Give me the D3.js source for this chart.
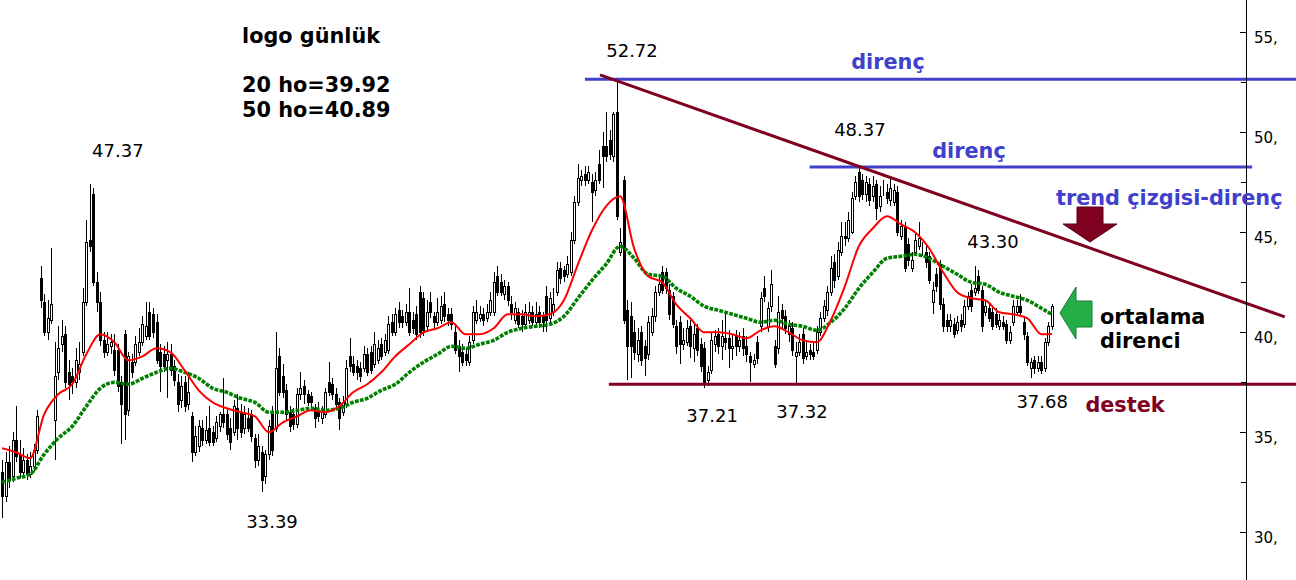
<!DOCTYPE html>
<html><head><meta charset="utf-8">
<script src="https://cdn.jsdelivr.net/npm/d3@7"></script>
<style>body{margin:0;background:#fff}svg{display:block;font-family:"DejaVu Sans",Verdana,sans-serif}</style>
</head><body><svg id="c" width="1296" height="580"></svg>
<script>
// ---- daily OHLC ----
const opens = [
33.0,31.8,33.5,32.8,34.6,33.9,33.0,33.6,32.9,33.3,
34.1,42.7,41.5,40.0,40.6,35.6,38.0,39.4,39.9,38.0,
37.8,37.5,38.0,39.0,41.5,44.6,46.9,42.5,41.5,39.6,
39.0,39.3,39.1,39.1,37.5,39.9,36.1,38.5,38.5,39.0,
39.5,39.8,41.0,40.9,40.5,39.0,38.9,38.6,38.9,38.3,
37.5,36.6,37.5,36.4,35.8,34.0,34.3,35.2,34.6,35.2,
35.0,34.7,35.3,35.9,35.9,35.2,35.0,36.2,36.0,35.2,
35.7,35.9,34.7,33.6,34.0,32.8,33.9,36.0,35.2,38.8,
37.8,37.1,36.0,35.9,35.4,36.9,37.3,36.9,36.8,36.2,
36.1,35.7,35.9,37.5,37.4,36.9,36.5,36.0,36.4,38.8,
38.4,38.3,38.2,38.2,38.9,39.0,38.4,38.6,39.4,39.0,
39.1,40.5,40.0,41.1,40.8,40.5,41.0,40.6,40.9,42.0,
41.7,40.3,41.5,40.8,40.5,40.6,41.4,40.9,40.9,40.0,
39.3,39.0,38.9,38.5,39.6,40.6,40.7,40.9,40.7,41.0,
41.0,42.8,42.5,41.9,42.3,41.4,40.6,41.0,40.8,40.4,
40.6,41.0,40.5,41.0,40.8,41.8,40.7,41.0,42.0,43.2,
43.1,42.9,43.0,44.6,46.5,47.6,47.9,47.6,47.5,47.1,
48.4,49.3,49.3,49.6,48.8,51.0,44.0,47.6,41.1,40.8,
40.0,38.9,40.0,39.3,38.9,40.0,40.8,42.0,43.0,43.0,
42.1,41.8,40.3,40.5,39.4,39.5,40.3,39.2,40.2,39.4,
39.2,37.6,38.1,39.4,39.9,39.3,39.7,39.7,39.2,39.8,
39.3,39.8,39.3,38.8,38.4,39.5,40.3,42.2,40.3,41.3,
39.3,39.2,41.1,40.8,39.9,40.2,38.8,39.0,39.9,38.8,
39.1,39.0,39.1,40.0,40.7,41.1,42.0,43.5,42.8,44.0,
44.8,44.7,45.0,46.8,48.0,47.6,46.9,47.4,46.8,47.4,
46.3,47.2,47.0,46.6,46.5,47.0,44.8,45.3,44.4,43.2,
44.0,44.3,44.1,44.0,43.8,41.5,42.9,43.4,41.4,40.6,
40.3,40.4,40.1,40.6,40.4,41.3,42.1,42.0,42.8,42.1,
41.0,41.2,41.0,40.9,40.3,40.5,40.4,39.6,40.5,41.0,
41.3,40.5,39.8,38.2,38.6,38.2,38.5,38.2,39.5,40.3];
const highs = [
33.6,34.0,34.3,35.0,36.3,34.6,34.2,33.9,34.0,34.4,
36.1,43.3,41.9,41.6,44.2,39.5,40.3,40.6,40.3,38.6,
38.2,39.2,39.5,42.2,45.6,47.4,47.2,43.0,42.0,40.0,
40.0,39.9,39.9,39.4,37.8,40.1,39.0,38.9,39.8,40.2,
40.8,41.5,41.5,41.2,40.9,39.4,39.3,39.5,39.4,38.6,
37.9,37.8,37.8,38.0,36.0,35.3,35.6,35.6,35.8,36.3,
35.3,35.8,36.0,37.7,36.2,35.7,36.6,36.9,36.4,36.3,
36.2,36.1,34.9,34.9,34.3,34.1,35.6,36.3,40.0,39.2,
38.4,37.4,36.3,36.2,37.2,38.0,37.6,37.1,37.0,36.4,
36.5,36.3,37.2,38.5,37.7,37.2,36.7,36.8,38.6,39.7,
38.8,38.6,38.5,39.3,39.2,39.3,40.0,39.6,39.7,39.9,
40.8,40.9,41.2,41.5,41.1,41.4,42.2,41.0,41.3,42.3,
42.0,41.6,42.0,41.0,41.7,41.8,42.0,41.2,41.2,40.4,
39.6,39.4,39.2,39.8,41.3,41.6,41.3,41.2,41.4,42.0,
43.0,43.3,42.9,42.6,42.5,41.8,41.5,41.2,41.1,41.4,
41.5,41.3,41.5,41.3,41.0,42.3,42.0,42.2,43.5,43.5,
43.3,43.8,45.0,46.8,48.4,48.1,48.3,48.3,47.9,48.0,
49.1,50.0,51.0,50.1,51.0,52.7,45.2,47.8,41.6,41.5,
40.6,40.2,40.3,39.6,40.8,41.2,42.3,42.8,43.3,43.2,
42.4,42.0,40.6,40.8,40.2,40.6,40.6,40.4,40.4,39.7,
39.5,38.3,40.0,40.1,40.2,40.6,40.9,40.1,39.9,40.1,
40.0,40.2,39.8,39.0,38.9,39.8,42.0,42.8,41.5,43.1,
39.6,41.8,41.4,41.1,40.6,40.5,39.5,39.9,40.2,39.6,
39.4,39.5,40.3,41.0,41.6,42.3,43.8,43.9,44.5,45.5,
45.5,46.0,47.0,47.8,48.2,47.9,47.8,47.7,47.8,47.6,
47.3,47.6,47.4,47.7,47.4,47.3,45.6,45.5,44.7,44.0,
45.0,45.5,44.5,44.3,44.0,42.5,43.2,43.6,41.7,40.9,
40.9,40.7,40.8,40.9,41.6,42.0,42.4,43.3,43.1,42.3,
41.6,41.4,41.2,41.2,40.9,40.8,40.6,40.3,41.6,41.6,
41.9,40.8,40.0,38.7,38.8,38.8,38.8,39.7,40.5,41.4];
const lows = [
30.7,31.5,32.2,32.5,33.5,32.7,32.8,32.6,32.7,33.0,
33.9,41.2,39.8,39.6,40.4,33.6,37.6,39.0,37.2,36.6,
36.9,37.2,37.6,38.8,41.3,44.0,42.3,41.0,39.3,38.7,
38.8,38.9,37.8,37.0,34.4,34.6,35.8,37.7,38.3,38.8,
39.3,39.6,39.6,39.7,38.4,37.0,38.0,36.7,37.8,37.3,
36.0,36.2,36.0,36.1,33.5,33.8,34.0,34.3,34.4,34.3,
34.3,34.5,35.0,35.2,34.6,34.1,34.8,34.6,34.7,34.9,
35.0,34.5,33.2,33.3,32.0,32.4,33.6,33.8,35.0,36.8,
36.7,35.6,35.0,35.1,35.2,36.6,36.4,36.3,36.2,35.2,
35.5,35.4,35.7,36.8,36.6,36.1,35.1,35.8,36.2,38.0,
37.8,37.6,37.5,38.0,37.8,37.9,38.2,38.4,38.6,38.8,
38.9,39.8,39.8,40.2,40.2,40.3,39.8,39.9,39.6,39.7,
39.8,40.0,40.7,40.2,40.3,40.4,40.5,40.3,40.1,38.9,
38.0,38.3,38.3,38.3,39.4,40.4,40.5,40.3,40.5,40.8,
40.8,41.8,41.8,41.6,41.3,40.6,40.4,40.2,40.0,40.2,
40.4,40.3,40.3,40.2,40.0,40.0,40.3,40.8,41.8,42.4,
42.5,42.7,42.8,44.4,46.3,47.3,47.3,47.4,45.5,46.8,
47.4,47.2,48.5,48.6,48.5,45.6,43.8,40.4,37.6,37.7,
38.6,38.5,38.3,37.8,38.6,39.8,40.5,41.8,41.9,41.9,
40.6,40.2,38.9,38.4,39.1,39.3,38.7,38.5,38.8,38.0,
37.2,37.3,37.9,39.0,38.9,38.6,39.1,38.2,38.6,38.8,
39.0,38.8,38.5,37.5,38.2,38.4,40.0,41.5,40.0,41.0,
38.2,38.9,40.2,39.9,39.5,38.8,37.4,38.8,38.4,38.6,
38.6,38.6,38.9,39.8,40.5,40.8,41.8,42.2,42.6,43.8,
44.3,44.5,44.9,46.6,46.5,46.6,46.5,46.3,46.5,45.6,
46.0,46.8,46.4,46.3,46.3,44.8,44.6,43.0,43.3,43.0,
43.8,44.1,43.8,43.2,42.4,40.9,42.0,41.1,40.0,40.0,
40.0,39.7,39.9,40.0,40.2,41.1,41.0,41.8,41.9,40.0,
40.8,40.5,40.1,40.2,40.1,40.1,39.4,39.4,40.3,40.8,
40.8,39.6,38.3,37.7,37.9,38.0,37.9,38.0,39.3,40.1];
const closes = [
31.8,33.5,32.6,34.6,33.8,33.0,33.6,32.9,33.3,34.1,
35.8,41.6,40.0,40.7,41.4,37.8,39.2,39.8,37.5,37.4,
37.5,38.6,38.4,41.5,44.5,44.3,42.5,41.5,39.6,39.0,
39.4,39.5,38.1,37.3,36.4,35.9,38.8,38.0,39.4,39.5,
40.4,40.3,39.8,40.0,38.6,38.3,38.3,38.9,38.1,37.6,
36.4,37.3,36.3,37.0,34.0,34.8,35.3,34.6,35.1,34.5,
34.5,35.5,35.9,35.5,34.9,34.5,36.3,35.2,35.0,35.9,
35.2,34.8,33.6,34.3,32.6,33.9,35.3,34.1,38.2,37.0,
37.0,35.9,35.3,35.4,36.9,37.2,36.9,36.5,36.5,35.7,
35.8,36.0,37.0,37.0,36.9,36.4,35.7,36.5,38.2,38.3,
38.0,38.0,37.8,38.9,38.0,38.1,39.4,39.2,38.8,39.6,
40.4,40.0,40.9,40.5,40.5,41.0,40.0,40.2,39.9,40.0,
40.1,41.0,41.0,40.5,41.0,41.3,40.8,40.6,40.4,39.1,
38.8,38.5,38.6,39.5,41.0,41.0,40.9,40.6,41.0,41.6,
42.5,42.0,42.0,42.3,41.6,41.0,41.2,40.4,40.4,41.0,
41.0,40.5,40.9,40.5,40.5,40.6,41.7,41.4,43.1,42.7,
42.8,43.4,44.6,46.5,47.7,47.8,47.6,48.0,47.0,47.6,
47.6,48.8,48.8,48.9,50.9,45.8,44.5,40.6,39.3,39.3,
39.0,39.6,38.6,38.7,40.5,40.8,42.0,42.4,42.1,42.2,
40.9,40.4,39.3,39.4,39.6,40.2,39.3,39.9,39.1,38.3,
37.5,38.0,39.6,39.8,39.3,39.8,39.5,39.2,39.3,39.3,
39.6,39.2,38.9,38.5,38.6,38.7,41.7,41.8,41.2,42.4,
38.4,41.0,40.7,40.2,40.3,39.1,39.0,39.5,38.7,39.0,
38.9,38.8,40.0,40.7,41.3,42.0,43.2,42.6,44.1,44.8,
44.7,45.6,46.7,47.5,46.8,46.9,47.5,46.6,47.3,46.2,
46.8,47.2,46.7,47.2,47.1,45.0,45.3,43.2,43.6,43.6,
44.6,44.7,44.1,43.5,42.6,42.1,42.3,41.4,40.3,40.3,
40.6,39.9,40.5,40.3,41.3,41.8,41.3,42.2,42.1,40.3,
41.3,40.7,40.3,40.4,40.6,40.3,39.6,40.0,41.3,41.3,
41.0,39.9,38.5,38.5,38.2,38.5,38.1,39.5,40.3,41.3];

// moving averages, read every 4th bar (last entry = last bar)
const ma20 = [
34.2,34.0,33.7,35.9,36.9,37.4,38.9,39.9,39.5,38.6,
38.8,39.2,39.0,38.1,37.1,36.5,36.2,36.0,35.8,35.0,
35.5,35.8,36.1,36.0,36.3,37.0,37.4,38.0,38.8,39.4,
40.0,40.2,40.5,39.9,39.9,40.2,40.9,40.9,40.8,40.9,
41.6,43.4,45.1,46.3,46.8,44.2,42.8,42.5,41.4,40.7,
40.0,40.0,39.9,39.7,40.1,40.3,40.0,39.6,39.5,40.6,
42.3,44.3,45.2,45.8,45.4,45.0,44.2,43.0,42.0,41.7,
41.6,41.0,40.9,40.7,39.9,39.92];
const ma50 = [
32.5,32.7,32.9,33.9,34.7,35.3,36.3,37.2,37.5,37.4,
37.7,38.0,38.2,38.0,37.7,37.2,37.0,36.7,36.5,36.0,
36.0,36.1,36.2,36.1,36.2,36.5,36.7,37.1,37.4,38.0,
38.5,38.9,39.3,39.2,39.4,39.6,40.0,40.2,40.3,40.4,
40.8,41.7,42.6,43.4,44.3,43.7,42.9,42.8,42.2,41.8,
41.3,41.1,40.9,40.7,40.5,40.6,40.4,40.3,40.1,40.5,
41.2,42.2,43.0,43.7,43.8,43.9,43.7,43.3,42.9,42.5,
42.4,42.0,41.8,41.6,41.2,40.89];

const yTicks = [30,35,40,45,50,55];
const yMinorTicks = [32.5,37.5,42.5,47.5,52.5];

// levels drawn on the chart [startBar, endBar, price]
const resist1 = [166, 368.5, 52.65];
const resist2 = [230, 356, 48.27];
const support = [172.8, 368.5, 37.4];
const trendLine = [[170.3, 52.87], [365.3, 40.77]];

// price notes: [text, bar, price]
const notes = [
  ["52.72", 179.4, 53.77], ["47.37", 33.0, 48.77], ["48.37", 244.3, 49.82],
  ["43.30", 282.2, 44.22], ["37.21", 202.2, 35.52], ["37.32", 227.8, 35.72],
  ["37.68", 296.2, 36.22], ["33.39", 76.9, 30.22]
];

const svg = d3.select('#c');
const N = opens.length;
const x = d3.scaleLinear().domain([0, N - 1]).range([2, 1052]);
const y = d3.scaleLinear().domain([30, 55]).range([532.3, 32.3]);

const bars = d3.range(N).map(i => ({i, o: opens[i], h: highs[i], l: lows[i], c: closes[i]}));
const px = i => Math.round(x(i)) + 0.5;

// candles
const cg = svg.append('g').attr('shape-rendering', 'crispEdges');
cg.selectAll('line.w').data(bars).join('line')
  .attr('x1', d => px(d.i)).attr('x2', d => px(d.i))
  .attr('y1', d => Math.round(y(d.h))).attr('y2', d => Math.round(y(d.l)))
  .attr('stroke', '#000').attr('stroke-width', 1);
cg.selectAll('rect.b').data(bars).join('rect')
  .attr('x', d => px(d.i) - 1)
  .attr('width', 2)
  .attr('y', d => Math.round(y(Math.max(d.o, d.c))) + 0.5)
  .attr('height', d => Math.max(0, Math.round(y(Math.min(d.o, d.c))) - Math.round(y(Math.max(d.o, d.c)))))
  .attr('fill', d => d.c >= d.o ? '#fff' : '#000')
  .attr('stroke', '#000').attr('stroke-width', 1);

// moving averages
const maBars = d3.range(0, N - 3, 4).concat([N - 1]);
const lineGen = d3.line().x((d, k) => x(maBars[k])).y(d => y(d)).curve(d3.curveMonotoneX);
svg.append('path').datum(ma50).attr('d', lineGen)
  .attr('fill', 'none').attr('stroke', '#008000').attr('stroke-width', 3.6)
  .attr('stroke-dasharray', '3.8,1.3');
svg.append('path').datum(ma20).attr('d', lineGen)
  .attr('fill', 'none').attr('stroke', '#ff0000').attr('stroke-width', 2);

// horizontal levels
const blue = '#4040cc', maroon = '#800020';
[[resist1, blue], [resist2, blue], [support, maroon]].forEach(([lv, col]) => {
  svg.append('line')
    .attr('x1', x(lv[0])).attr('x2', x(lv[1]))
    .attr('y1', y(lv[2])).attr('y2', y(lv[2]))
    .attr('stroke', col).attr('stroke-width', 3);
});
svg.append('line')
  .attr('x1', x(trendLine[0][0])).attr('y1', y(trendLine[0][1]))
  .attr('x2', x(trendLine[1][0])).attr('y2', y(trendLine[1][1]))
  .attr('stroke', maroon).attr('stroke-width', 3);

// y axis (right side)
const axX = 1246;
svg.append('line').attr('x1', axX + 0.5).attr('x2', axX + 0.5).attr('y1', 0).attr('y2', 580)
  .attr('stroke', '#000').attr('shape-rendering', 'crispEdges');
const major = svg.append('g').attr('transform', `translate(${axX},0)`)
  .call(d3.axisLeft(y).tickValues(yTicks).tickSize(6).tickFormat(''));
const minor = svg.append('g').attr('transform', `translate(${axX},0)`)
  .call(d3.axisLeft(y).tickValues(yMinorTicks).tickSize(5).tickFormat(''));
[major, minor].forEach(g => { g.select('.domain').remove(); g.selectAll('line').attr('shape-rendering', 'crispEdges'); });
const labs = svg.append('g').attr('transform', `translate(${axX},0)`)
  .call(d3.axisRight(y).tickValues(yTicks).tickSize(0).tickPadding(8).tickFormat(d => d + ','));
labs.select('.domain').remove();
labs.selectAll('text').attr('font-size', 15).attr('font-family', '"DejaVu Sans",Verdana,sans-serif')
  .attr('fill', '#000').attr('dy', '0.66em');

// price notes
svg.selectAll('text.note').data(notes).join('text').attr('class', 'note')
  .attr('x', d => x(d[1])).attr('y', d => y(d[2]))
  .attr('text-anchor', 'middle').attr('font-size', 18).attr('fill', '#000')
  .text(d => d[0]);

// text annotations
const T = (t, xx, yy, col, anchor, size) => svg.append('text').attr('x', xx).attr('y', yy)
  .attr('fill', col).attr('font-weight', 'bold').attr('font-size', size || 20.8)
  .attr('text-anchor', anchor || 'start').text(t);
T('logo günlük', 242, 43, '#000');
T('20 ho=39.92', 242, 92, '#000');
T('50 ho=40.89', 242, 117, '#000');
T('direnç', 888, 69, blue, 'middle');
T('direnç', 969, 158, blue, 'middle');
T('trend çizgisi-direnç', 1056, 205, blue);
T('destek', 1125, 412, maroon, 'middle');
T('ortalama', 1100, 324, '#000');
T('direnci', 1100, 348, '#000');

// arrows
svg.append('path')
  .attr('d', 'M1060,313 L1076,287 L1076,301 L1092,301 L1092,327 L1076,327 L1076,339 Z')
  .attr('fill', '#24ae48').attr('stroke', '#177a30').attr('stroke-width', 1);
svg.append('path')
  .attr('d', 'M1077,207 L1103,207 L1103,224 L1117,224 L1090,242 L1063,224 L1077,224 Z')
  .attr('fill', maroon).attr('stroke', '#5a0016').attr('stroke-width', 1);
</script></body></html>
